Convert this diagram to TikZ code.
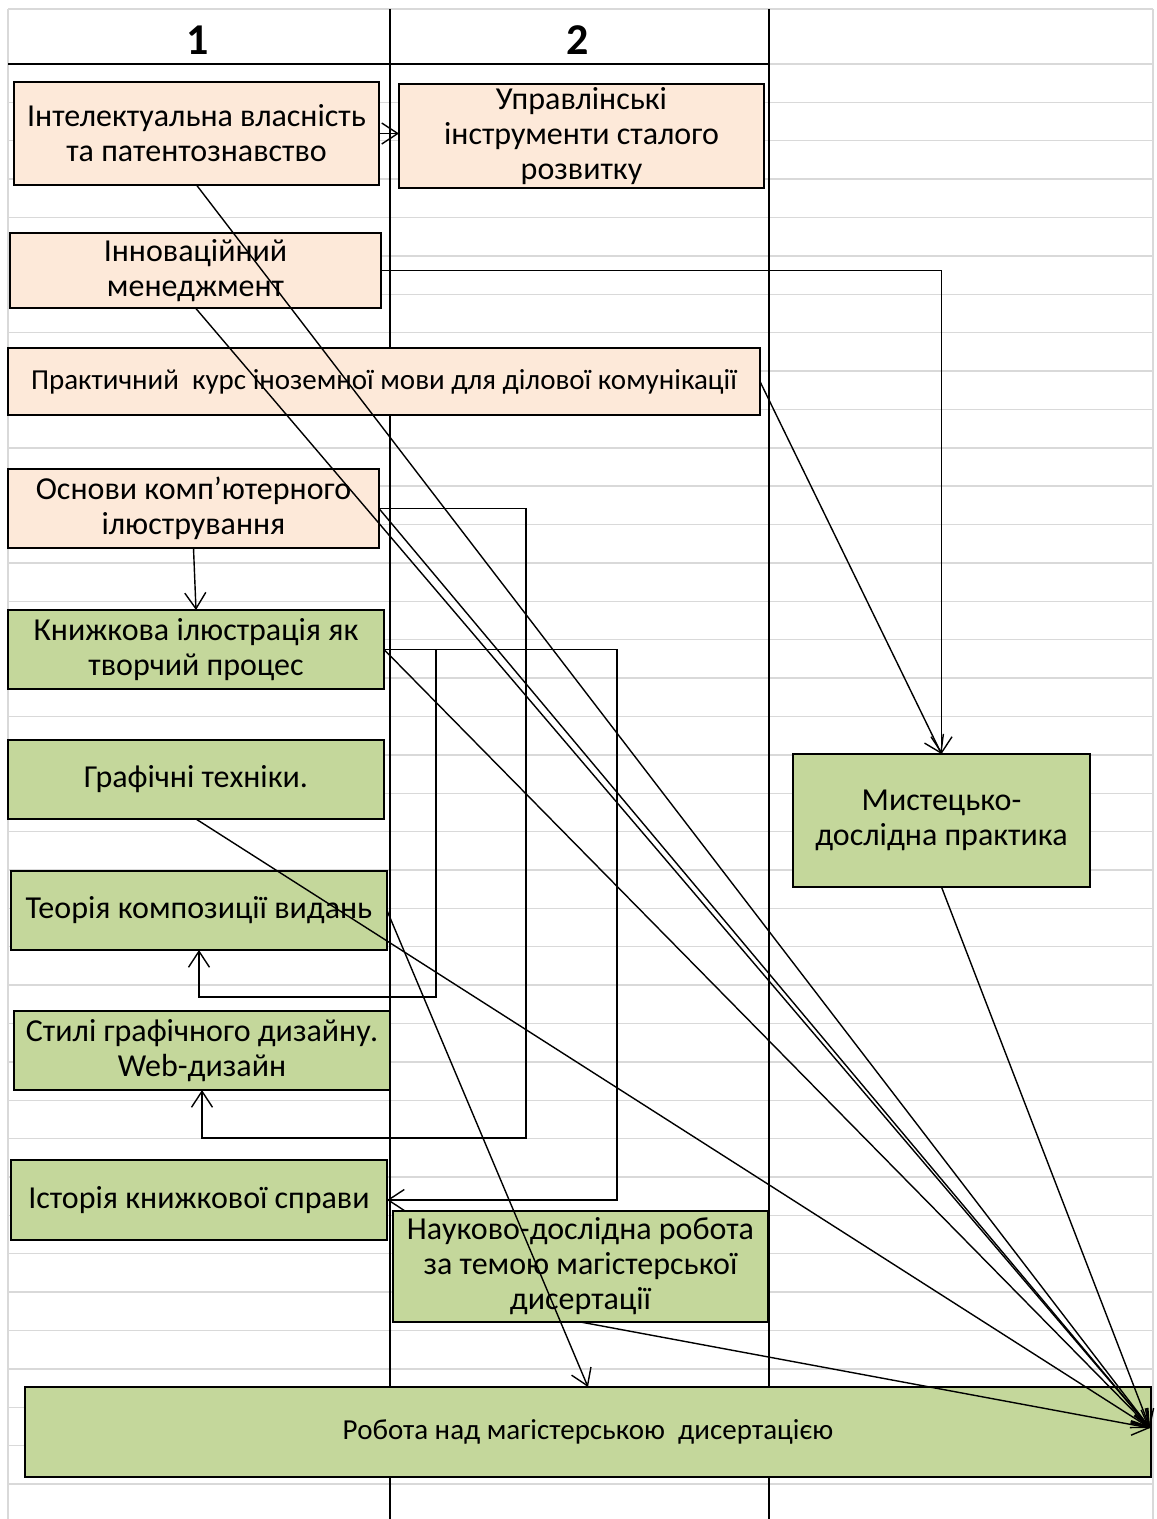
\documentclass[tikz,border=0pt]{standalone}
\usepackage{fontspec}
\setmainfont{Carlito}
\usetikzlibrary{arrows.meta,calc}
\definecolor{peach}{HTML}{FDE9D9}
\definecolor{leaf}{HTML}{C4D79B}
\definecolor{gridgray}{HTML}{D9D9D9}
\begin{document}
\begin{tikzpicture}[x=1pt,y=-1pt,
  box/.style={draw, line width=1.8pt, inner sep=0pt, outer sep=0pt, align=center,
    font=\fontsize{32}{35}\selectfont},
  pbox/.style={box, fill=peach},
  gbox/.style={box, fill=leaf},
  conn/.style={line width=1.4pt},
  arr/.style={conn, -{Straight Barb[length=16pt,width=21pt]}},
  gridln/.style={gridgray, line width=1.4pt},
  colln/.style={black, line width=2pt},
  head/.style={font=\fontsize{44}{48}\selectfont\bfseries}]
\useasboundingbox (0,0) rectangle (1157,1519);
\fill[white] (0,0) rectangle (1157,1519);
% grid
\draw[gridln] (8,9) -- (1153,9);
\foreach \k in {0,...,37} {\draw[gridln] (8,{64+\k*38.38}) -- (1153,{64+\k*38.38});}
\draw[gridln] (8,9) -- (8,1519);
\draw[gridln] (1153,9) -- (1153,1519);
% column lines
\draw[colln] (8,64) -- (769,64);
\draw[colln] (390,9) -- (390,1519);
\draw[colln] (769,9) -- (769,1519);
% headers
\node[head] (h1) at (198,40) {1};
\node[head] (h2) at (578,40) {2};
% boxes
\node[pbox, minimum width=365pt, minimum height=103pt] (intel) at (196.5,133.5) {Інтелектуальна власність\\та патентознавство};
\node[pbox, minimum width=365pt, minimum height=104pt] (upr) at (581.5,136) {Управлінські\\інструменти сталого\\розвитку};
\node[pbox, minimum width=371pt, minimum height=75pt] (innov) at (195.5,270.5) {Інноваційний\\менеджмент};
\node[pbox, minimum width=752pt, minimum height=67pt, font=\fontsize{29}{32}\selectfont] (prak) at (384,381.5) {Практичний~ курс іноземної мови для ділової комунікації};
\node[pbox, minimum width=371pt, minimum height=79pt] (osn) at (193.5,508.5) {Основи комп’ютерного\\ілюстрування};
\node[gbox, minimum width=376pt, minimum height=79pt] (knyzh) at (196,649.5) {Книжкова ілюстрація як\\творчий процес};
\node[gbox, minimum width=376pt, minimum height=79pt] (graf) at (196,779.5) {Графічні техніки.};
\node[gbox, minimum width=376pt, minimum height=79pt] (teor) at (199,910.5) {Теорія композиції видань};
\node[gbox, minimum width=376pt, minimum height=79pt] (stil) at (202,1050.5) {Стилі графічного дизайну.\\Web-дизайн};
\node[gbox, minimum width=376pt, minimum height=80pt] (ist) at (199,1200) {Історія книжкової справи};
\node[gbox, minimum width=375pt, minimum height=111pt] (nauk) at (580.5,1266.5) {Науково-дослідна робота\\за темою магістерської\\дисертації};
\node[gbox, minimum width=297pt, minimum height=133pt] (myst) at (941.5,820.5) {Мистецько-\\дослідна практика};
\node[gbox, minimum width=1126pt, minimum height=90pt, font=\fontsize{29}{32}\selectfont] (rob) at (588,1432) {Робота над магістерською~ дисертацією};
% corner points
\coordinate (conv) at (1150,1428);
\coordinate (c1) at (526,1138);
\coordinate (c2) at (617,1200);
\coordinate (c3) at (436,997);
% connectors
\draw[arr] (intel.east) -- (intel.east -| upr.west);
\draw[arr] (intel.south) -- (conv);
\draw[arr] (innov.east) -| (myst.north);
\draw[arr] (innov.south) -- (conv);
\draw[arr] (prak.east) -- (myst.north);
\draw[arr] (osn.south) -- (knyzh.north);
\draw[arr] (osn.east) -| (c1) -| (stil.south);
\draw[arr] (osn.east) -- (conv);
\draw[arr] (knyzh.east) -| (c2) -- (ist.east);
\draw[arr] (knyzh.east) -| (c3) -| (teor.south);
\draw[arr] (knyzh.east) -- (conv);
\draw[arr] (graf.south) -- (conv);
\draw[arr] (teor.east) -- (rob.north);
\draw[arr] (nauk.south) -- (conv);
\draw[arr] (myst.south) -- (conv);
\end{tikzpicture}
\end{document}
